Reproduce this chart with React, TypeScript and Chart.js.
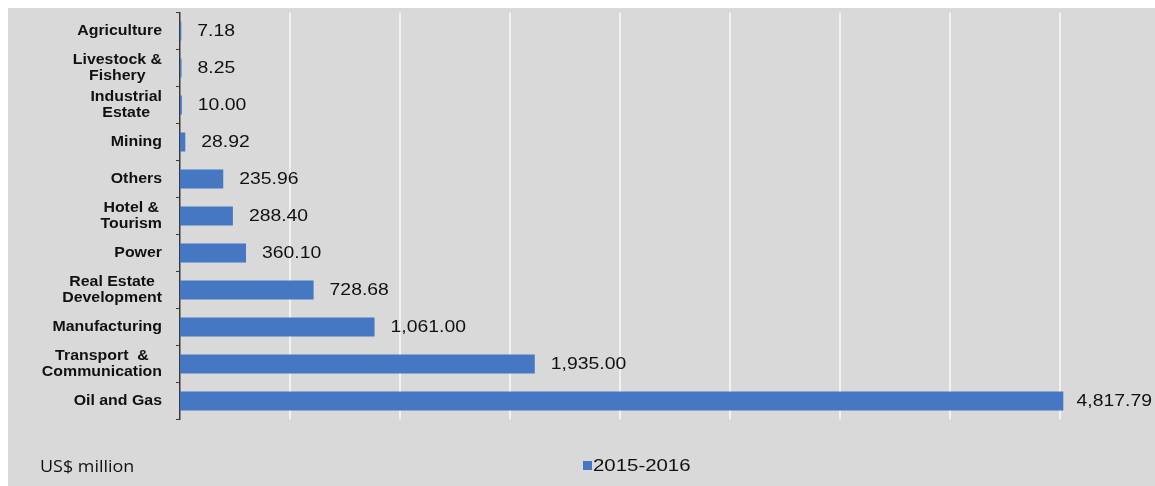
import React, { useEffect, useRef } from "react";
import { Chart, registerables } from "chart.js";

Chart.register(...registerables);

const categories: string[][] = [
  ["Agriculture"],
  ["Livestock &", "Fishery"],
  ["Industrial", "Estate"],
  ["Mining"],
  ["Others"],
  ["Hotel &", "Tourism"],
  ["Power"],
  ["Real Estate", "Development"],
  ["Manufacturing"],
  ["Transport  &", "Communication"],
  ["Oil and Gas"],
];
const values: number[] = [7.18, 8.25, 10.0, 28.92, 235.96, 288.4, 360.1, 728.68, 1061.0, 1935.0, 4817.79];
const seriesName = "2015-2016";
const unitLabel = "US$ million";
const gridStep = 600;
const axisMax = 5318;

const BAR_COLOR = "#4577c2";
const BG = "#d9d9d9";
const GRID_COLOR = "#f2f2f2";

function drawStretched(
  ctx: CanvasRenderingContext2D,
  text: string,
  x: number,
  y: number,
  sx: number,
  align: "left" | "center" | "right"
) {
  const w = ctx.measureText(text).width * sx;
  let left = x;
  if (align === "center") left = x - w / 2;
  if (align === "right") left = x - w;
  ctx.save();
  ctx.translate(left, y);
  ctx.scale(sx, 1);
  ctx.textAlign = "left";
  ctx.fillText(text, 0, 0);
  ctx.restore();
}

const gridPlugin = {
  id: "whiteGrid",
  beforeDatasetsDraw(chart: any) {
    const ctx: CanvasRenderingContext2D = chart.ctx;
    const xScale = chart.scales.x;
    const area = chart.chartArea;
    ctx.save();
    ctx.strokeStyle = GRID_COLOR;
    ctx.lineWidth = 2;
    for (let v = gridStep; v <= xScale.max; v += gridStep) {
      const x = Math.round(xScale.getPixelForValue(v));
      ctx.beginPath();
      ctx.moveTo(x, area.top);
      ctx.lineTo(x, area.bottom);
      ctx.stroke();
    }
    ctx.restore();
  },
};

const labelPlugin = {
  id: "customLabels",
  afterDraw(chart: any) {
    const ctx: CanvasRenderingContext2D = chart.ctx;
    const yScale = chart.scales.y;
    const meta = chart.getDatasetMeta(0);
    const W = chart.width;
    ctx.save();
    ctx.fillStyle = "#111";
    ctx.textBaseline = "middle";

    // category labels (lines centered within a right-aligned block)
    ctx.font = "bold 15px 'Liberation Sans', Arial, sans-serif";
    const sxCat = 1.06;
    const lineH = 16.5;
    const rightEdge = yScale.right - 18;
    (chart.data.labels as string[][]).forEach((lab, i) => {
      const lines = Array.isArray(lab) ? lab : [lab];
      const yc = yScale.getPixelForTick(i);
      const blockW = Math.max(...lines.map((l) => ctx.measureText(l.trim()).width * sxCat));
      const cx = rightEdge - blockW / 2;
      lines.forEach((l, k) => {
        const y = yc + (k - (lines.length - 1) / 2) * lineH;
        drawStretched(ctx, l, cx, y, sxCat, "center");
      });
    });

    // value labels
    ctx.font = "17px 'Liberation Sans', Arial, sans-serif";
    const sxVal = 1.14;
    meta.data.forEach((bar: any, i: number) => {
      const v = chart.data.datasets[0].data[i] as number;
      const txt = v.toLocaleString("en-US", { minimumFractionDigits: 2, maximumFractionDigits: 2 });
      const w = ctx.measureText(txt).width * sxVal;
      const x = Math.min(bar.x + 16, W - 3 - w);
      drawStretched(ctx, txt, x, bar.y, sxVal, "left");
    });

    // unit label
    ctx.font = "16px 'Open Sans', 'Liberation Sans', sans-serif";
    drawStretched(ctx, unitLabel, 32, 459, 1.12, "left");

    // legend
    ctx.fillStyle = BAR_COLOR;
    ctx.fillRect(575, 453, 9, 9);
    ctx.fillStyle = "#111";
    ctx.font = "17px 'Liberation Sans', Arial, sans-serif";
    drawStretched(ctx, chart.data.datasets[0].label, 585, 458, 1.2, "left");
    ctx.restore();
  },
};

export default function App() {
  const canvasRef = useRef<HTMLCanvasElement | null>(null);

  useEffect(() => {
    if (!canvasRef.current) return;
    const chart = new Chart(canvasRef.current, {
      type: "bar",
      data: {
        labels: categories as any,
        datasets: [
          {
            label: seriesName,
            data: values,
            backgroundColor: BAR_COLOR,
            borderWidth: 0,
            categoryPercentage: 0.8,
            barPercentage: 0.64,
          },
        ],
      },
      options: {
        indexAxis: "y",
        animation: false,
        responsive: true,
        maintainAspectRatio: false,
        layout: { padding: { top: 4.5, bottom: 66.5, left: 0, right: 0 } },
        plugins: {
          legend: { display: false },
          tooltip: { enabled: false },
        },
        scales: {
          x: {
            type: "linear",
            min: 0,
            max: axisMax,
            ticks: { stepSize: gridStep, display: false },
            grid: { display: false, drawTicks: false },
            border: { display: false },
          },
          y: {
            ticks: { display: false },
            grid: {
              drawOnChartArea: false,
              drawTicks: true,
              tickLength: 4,
              color: "#3a3a3a",
              lineWidth: 1,
              offset: true,
            },
            border: { display: true, color: "#3a3a3a", width: 1.5 },
            afterFit: (s: any) => {
              s.width = 172;
            },
          },
        },
      },
      plugins: [gridPlugin, labelPlugin],
    });
    return () => chart.destroy();
  }, []);

  return (
    <div
      style={{
        position: "absolute",
        left: 8,
        top: 8,
        width: 1147,
        height: 478,
        background: BG,
      }}
    >
      <canvas ref={canvasRef} />
    </div>
  );
}
